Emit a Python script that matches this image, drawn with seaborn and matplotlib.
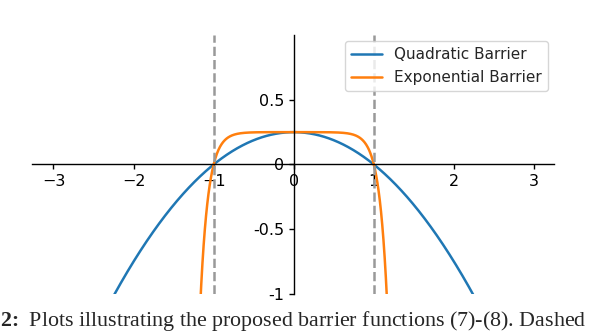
import numpy as np
import pandas as pd
import matplotlib
matplotlib.use("Agg")
import matplotlib.pyplot as plt
import seaborn as sns

# barrier curves, sampled in x
x = np.linspace(-3.25, 3.25, 1301)
quad = 0.25 * (1 - x ** 2)
expo = 0.25 * (1 - np.exp(10 * (np.abs(x) - 1)))

xticks = [-3, -2, -1, 0, 1, 2, 3]
yticks = [-1, -0.5, 0, 0.5]
ytick_labels = ["-1", "-0.5", "0", "0.5"]
bounds = [-1, 1]
caption = r"$\mathbf{2\!:}$ Plots illustrating the proposed barrier functions (7)-(8). Dashed"

df = pd.DataFrame({
    "x": np.concatenate([x, x]),
    "y": np.concatenate([quad, expo]),
    "kind": ["Quadratic Barrier"] * len(x) + ["Exponential Barrier"] * len(x),
})

sns.set_style("ticks")
plt.rcParams["font.family"] = ["DejaVu Sans"]
plt.rcParams["mathtext.fontset"] = "custom"
plt.rcParams["mathtext.bf"] = "Liberation Serif:bold"
fig = plt.figure(figsize=(5.9, 3.34), dpi=100)
ax = fig.add_axes([0.054, 0.12, 0.885, 0.775])

sns.lineplot(data=df, x="x", y="y", hue="kind", palette=["#1f77b4", "#ff7f0e"],
             linewidth=1.8, ax=ax)
for b in bounds:
    ax.axvline(b, color="#999999", ls="--", lw=1.8)

ax.set_xlim(-3.27, 3.25)
ax.set_ylim(-1, 1)
ax.spines["left"].set_position(("data", 0))
ax.spines["bottom"].set_position(("data", 0))
ax.spines["top"].set_visible(False)
ax.spines["right"].set_visible(False)
for s in ["left", "bottom"]:
    ax.spines[s].set_color("black")
    ax.spines[s].set_linewidth(1.0)
ax.set_xticks(xticks)
ax.set_yticks(yticks)
ax.set_yticklabels(ytick_labels)
ax.tick_params(labelsize=11.5, colors="black", width=1.0)
ax.set_xlabel("")
ax.set_ylabel("")

ax.legend(loc="upper right", fontsize=11, frameon=True, borderaxespad=0.4)

fig.text(0.0, 0.025, caption, family="Liberation Serif", fontsize=15.8)

fig.savefig("out.png", dpi=100)
